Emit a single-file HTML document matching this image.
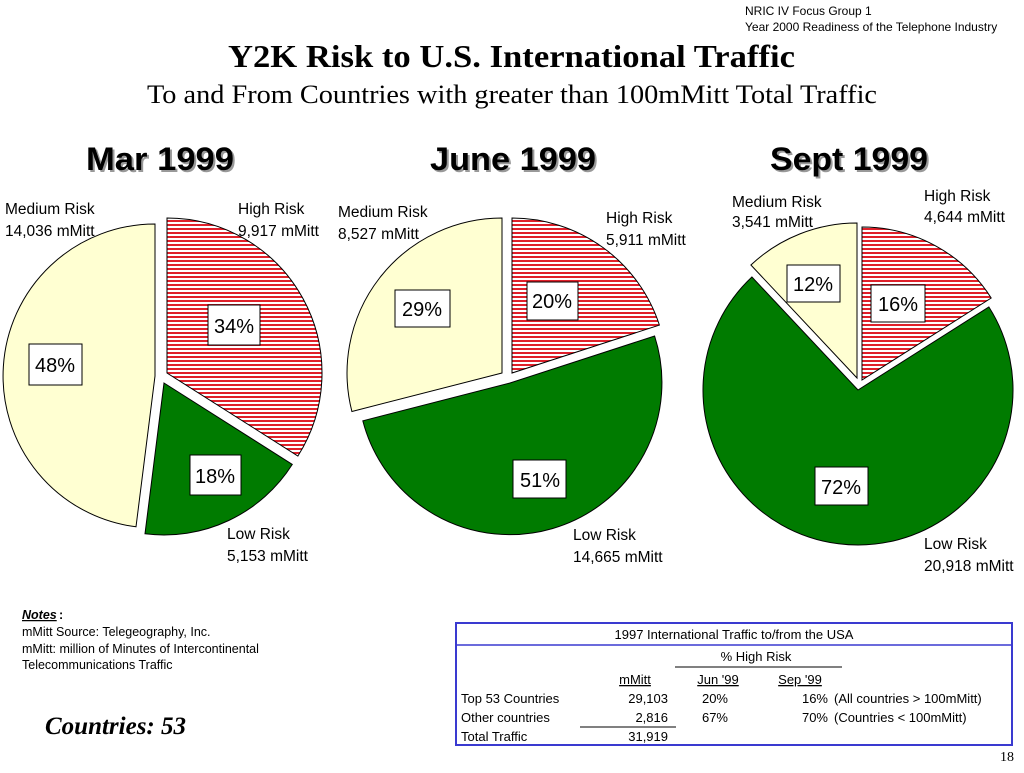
<!DOCTYPE html>
<html><head><meta charset="utf-8"><style>
body{margin:0;background:#fff;}
svg text{font-family:"Liberation Sans",Arial,sans-serif;}
</style></head><body>
<svg width="1024" height="768" viewBox="0 0 1024 768" xmlns="http://www.w3.org/2000/svg">
<defs>
<pattern id="st" width="4" height="4" patternUnits="userSpaceOnUse">
<rect width="4" height="4" fill="#fff"/><rect width="4" height="2" fill="#e0202a"/>
</pattern>
</defs>
<text x="745" y="15" font-size="12">NRIC IV Focus Group 1</text>
<text x="745" y="31" font-size="12">Year 2000 Readiness of the Telephone Industry</text>
<text x="228" y="67" font-size="32" font-weight="bold" textLength="567" lengthAdjust="spacingAndGlyphs" style="font-family:'Liberation Serif',serif">Y2K Risk to  U.S. International Traffic</text>
<text x="147" y="103" font-size="26" textLength="730" lengthAdjust="spacingAndGlyphs" style="font-family:'Liberation Serif',serif">To and From Countries with greater than 100mMitt Total Traffic</text>

<g font-size="32" font-weight="bold">
<text x="88" y="172" fill="#999" textLength="148" lengthAdjust="spacingAndGlyphs">Mar 1999</text><text x="86" y="170" textLength="148" lengthAdjust="spacingAndGlyphs">Mar 1999</text>
<text x="432" y="172" fill="#999" textLength="166" lengthAdjust="spacingAndGlyphs">June 1999</text><text x="430" y="170" textLength="166" lengthAdjust="spacingAndGlyphs">June 1999</text>
<text x="772" y="172" fill="#999" textLength="158" lengthAdjust="spacingAndGlyphs">Sept 1999</text><text x="770" y="170" textLength="158" lengthAdjust="spacingAndGlyphs">Sept 1999</text>
</g>

<g stroke="#000" stroke-width="1">
<path d="M167,373 L167,218 A155,155 0 0 1 297.9,456 Z" fill="url(#st)"/>
<path d="M164,383 L292.3,464.4 A152,152 0 0 1 145,533.8 Z" fill="#007b00"/>
<path d="M155,376 L136,526.8 A152,152 0 0 1 155,224 Z" fill="#ffffd2"/>

<path d="M512,373 L512,218 A155,155 0 0 1 659.4,325.1 Z" fill="url(#st)"/>
<path d="M510,383 L654.6,336 A152,152 0 1 1 362.8,420.8 Z" fill="#007b00"/>
<path d="M502,373 L351.9,411.5 A155,155 0 0 1 502,218 Z" fill="#ffffd2"/>

<path d="M862,380 L862,227 A153,153 0 0 1 991.2,298 Z" fill="url(#st)"/>
<path d="M858,390 L988.9,307 A155,155 0 1 1 751.9,277 Z" fill="#007b00"/>
<path d="M857,378 L750.9,265 A155,155 0 0 1 857,223 Z" fill="#ffffd2"/>
</g>

<g fill="#fff" stroke="#000" stroke-width="1">
<rect x="208" y="305" width="52" height="40"/>
<rect x="29" y="344" width="53" height="41"/>
<rect x="190" y="455" width="51" height="40"/>
<rect x="527" y="282" width="51" height="38"/>
<rect x="395" y="290" width="55" height="37"/>
<rect x="513" y="460" width="53" height="38"/>
<rect x="787" y="265" width="53" height="37"/>
<rect x="871" y="285" width="54" height="37"/>
<rect x="815" y="467" width="53" height="38"/>
</g>
<g font-size="20" text-anchor="middle">
<text x="234" y="333">34%</text>
<text x="55" y="372">48%</text>
<text x="215" y="483">18%</text>
<text x="552" y="308">20%</text>
<text x="422" y="316">29%</text>
<text x="540" y="487">51%</text>
<text x="813" y="291">12%</text>
<text x="898" y="311">16%</text>
<text x="841" y="494">72%</text>
</g>

<g font-size="15.5">
<text x="5" y="214">Medium Risk</text><text x="5" y="236">14,036 mMitt</text>
<text x="238" y="214">High Risk</text><text x="238" y="236">9,917 mMitt</text>
<text x="227" y="539">Low Risk</text><text x="227" y="561">5,153 mMitt</text>
<text x="338" y="217">Medium Risk</text><text x="338" y="239">8,527 mMitt</text>
<text x="606" y="223">High Risk</text><text x="606" y="245">5,911 mMitt</text>
<text x="573" y="540">Low Risk</text><text x="573" y="562">14,665 mMitt</text>
<text x="732" y="207">Medium Risk</text><text x="732" y="227">3,541 mMitt</text>
<text x="924" y="201">High Risk</text><text x="924" y="222">4,644 mMitt</text>
<text x="924" y="549">Low Risk</text><text x="924" y="571">20,918 mMitt</text>
</g>

<g font-size="12.5">
<text x="22" y="619" font-weight="bold" font-style="italic" text-decoration="underline">Notes</text><text x="59" y="619" font-weight="bold">:</text>
<text x="22" y="636">mMitt Source: Telegeography, Inc.</text>
<text x="22" y="653">mMitt:  million of Minutes of Intercontinental</text>
<text x="22" y="669">Telecommunications Traffic</text>
</g>
<text x="45" y="734" font-size="25" font-weight="bold" font-style="italic" style="font-family:'Liberation Serif',serif">Countries: 53</text>

<rect x="456" y="623" width="556" height="122" fill="none" stroke="#3a3ad0" stroke-width="2"/>
<line x1="456" y1="645" x2="1012" y2="645" stroke="#3a3ad0" stroke-width="1.5"/>
<g font-size="13">
<text x="734" y="639" text-anchor="middle">1997 International Traffic to/from the USA</text>
<text x="756" y="661" text-anchor="middle">% High Risk</text>
<line x1="675" y1="667" x2="842" y2="667" stroke="#000"/>
<text x="635" y="684" text-anchor="middle" text-decoration="underline">mMitt</text>
<text x="718" y="684" text-anchor="middle" text-decoration="underline">Jun '99</text>
<text x="800" y="684" text-anchor="middle" text-decoration="underline">Sep '99</text>
<text x="461" y="703">Top 53 Countries</text>
<text x="668" y="703" text-anchor="end">29,103</text>
<text x="728" y="703" text-anchor="end">20%</text>
<text x="828" y="703" text-anchor="end">16%</text>
<text x="834" y="703">(All countries &gt; 100mMitt)</text>
<text x="461" y="722">Other countries</text>
<text x="668" y="722" text-anchor="end">2,816</text>
<text x="728" y="722" text-anchor="end">67%</text>
<text x="828" y="722" text-anchor="end">70%</text>
<text x="834" y="722">(Countries &lt; 100mMitt)</text>
<line x1="580" y1="727" x2="676" y2="727" stroke="#000"/>
<text x="461" y="741">Total Traffic</text>
<text x="668" y="741" text-anchor="end">31,919</text>
</g>
<text x="1014" y="761" font-size="14" text-anchor="end" style="font-family:'Liberation Serif',serif">18</text>
</svg>
</body></html>
